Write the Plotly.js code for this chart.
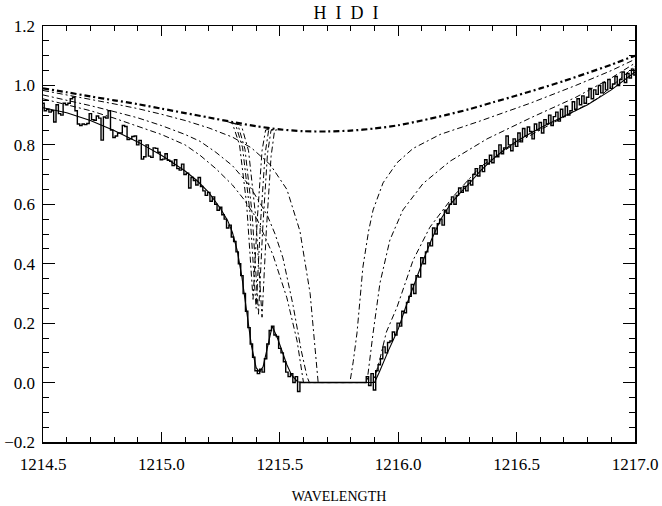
<!DOCTYPE html>
<html><head><meta charset="utf-8">
<script src="https://cdn.plot.ly/plotly-3.0.1.min.js"></script>
<style>html,body{margin:0;padding:0;background:#fff}#chart{width:662px;height:506px}</style>
</head><body><div id="chart"></div>
<script>
// Observed spectrum (histogram)
const dataWave = [
1214.50,1214.51,1214.52,1214.53,1214.54,1214.55,1214.56,1214.57,1214.58,1214.59,
1214.60,1214.61,1214.62,1214.63,1214.64,1214.65,1214.66,1214.67,1214.68,1214.69,
1214.70,1214.71,1214.72,1214.73,1214.74,1214.75,1214.76,1214.77,1214.78,1214.79,
1214.80,1214.81,1214.82,1214.83,1214.84,1214.85,1214.86,1214.87,1214.88,1214.89,
1214.90,1214.91,1214.92,1214.93,1214.94,1214.95,1214.96,1214.97,1214.98,1214.99,
1215.00,1215.01,1215.02,1215.03,1215.04,1215.05,1215.06,1215.07,1215.08,1215.09,
1215.10,1215.11,1215.12,1215.13,1215.14,1215.15,1215.16,1215.17,1215.18,1215.19,
1215.20,1215.21,1215.22,1215.23,1215.24,1215.25,1215.26,1215.27,1215.28,1215.29,
1215.30,1215.31,1215.32,1215.33,1215.34,1215.35,1215.36,1215.37,1215.38,1215.39,
1215.40,1215.41,1215.42,1215.43,1215.44,1215.45,1215.46,1215.47,1215.48,1215.49,
1215.50,1215.51,1215.52,1215.53,1215.54,1215.55,1215.56,1215.57,1215.58,1215.59,
1215.60,1215.61,1215.62,1215.63,1215.64,1215.65,1215.66,1215.67,1215.68,1215.69,
1215.70,1215.71,1215.72,1215.73,1215.74,1215.75,1215.76,1215.77,1215.78,1215.79,
1215.80,1215.81,1215.82,1215.83,1215.84,1215.85,1215.86,1215.87,1215.88,1215.89,
1215.90,1215.91,1215.92,1215.93,1215.94,1215.95,1215.96,1215.97,1215.98,1215.99,
1216.00,1216.01,1216.02,1216.03,1216.04,1216.05,1216.06,1216.07,1216.08,1216.09,
1216.10,1216.11,1216.12,1216.13,1216.14,1216.15,1216.16,1216.17,1216.18,1216.19,
1216.20,1216.21,1216.22,1216.23,1216.24,1216.25,1216.26,1216.27,1216.28,1216.29,
1216.30,1216.31,1216.32,1216.33,1216.34,1216.35,1216.36,1216.37,1216.38,1216.39,
1216.40,1216.41,1216.42,1216.43,1216.44,1216.45,1216.46,1216.47,1216.48,1216.49,
1216.50,1216.51,1216.52,1216.53,1216.54,1216.55,1216.56,1216.57,1216.58,1216.59,
1216.60,1216.61,1216.62,1216.63,1216.64,1216.65,1216.66,1216.67,1216.68,1216.69,
1216.70,1216.71,1216.72,1216.73,1216.74,1216.75,1216.76,1216.77,1216.78,1216.79,
1216.80,1216.81,1216.82,1216.83,1216.84,1216.85,1216.86,1216.87,1216.88,1216.89,
1216.90,1216.91,1216.92,1216.93,1216.94,1216.95,1216.96,1216.97,1216.98,1216.99,
1217.00];
const dataFlux = [
.94,.915,.92,.91,.915,.877,.935,.905,.90,.94,
.935,.94,.955,.96,.915,.87,.865,.87,.868,.872,
.905,.885,.883,.897,.89,.816,.894,.89,.915,.85,
.825,.83,.84,.84,.865,.862,.818,.82,.828,.83,
.80,.815,.752,.76,.80,.762,.758,.79,.788,.775,
.75,.752,.77,.748,.745,.73,.75,.72,.715,.735,
.70,.705,.655,.69,.68,.665,.69,.66,.645,.63,
.64,.61,.625,.60,.58,.59,.565,.55,.52,.53,
.49,.475,.44,.40,.36,.30,.24,.185,.13,.085,
.04,.03,.045,.035,.08,.13,.175,.19,.16,.155,
.115,.10,.07,.035,.02,.03,0,.02,-.03,0,
0,0,0,0,0,0,0,0,0,0,
0,0,0,0,0,0,0,0,0,0,
0,0,0,0,0,0,0,.02,-.01,.03,
-.025,.04,.06,.08,.12,.10,.135,.14,.17,.16,
.20,.19,.24,.235,.27,.29,.33,.30,.36,.355,
.42,.40,.44,.47,.46,.52,.50,.535,.55,.53,
.58,.57,.60,.625,.60,.63,.655,.64,.66,.645,
.68,.665,.70,.72,.695,.73,.71,.75,.735,.765,
.74,.78,.76,.80,.77,.79,.83,.80,.78,.82,
.795,.84,.81,.855,.83,.86,.845,.82,.87,.85,
.875,.84,.885,.87,.90,.865,.895,.91,.88,.92,
.895,.93,.90,.915,.945,.92,.955,.935,.965,.94,
.96,.99,.955,.985,.97,1.0,.975,1.01,.985,1.02,
.99,1.005,1.03,1.0,1.02,1.045,1.01,1.04,1.025,1.055,
1.035];

// Total fitted model (solid)
const fitWave = [1214.50,1214.60,1214.70,1214.80,1214.90,1215.00,1215.10,1215.15,1215.20,1215.25,1215.28,1215.30,1215.32,1215.34,1215.36,1215.38,1215.40,1215.415,1215.43,1215.45,1215.468,1215.49,1215.51,1215.53,1215.55,1215.575,1215.60,1215.70,1215.80,1215.90,1215.92,1215.94,1215.96,1215.98,1216.00,1216.03,1216.06,1216.10,1216.14,1216.18,1216.22,1216.26,1216.30,1216.35,1216.40,1216.45,1216.50,1216.56,1216.62,1216.70,1216.80,1216.90,1217.00];
const fitFlux = [.925,.908,.882,.848,.81,.765,.712,.68,.64,.585,.545,.505,.445,.355,.24,.125,.05,.035,.055,.13,.19,.15,.105,.06,.025,.003,0,0,0,0,.035,.075,.11,.145,.18,.25,.315,.40,.48,.55,.60,.637,.67,.715,.752,.785,.812,.84,.865,.895,.935,.985,1.045];

// Continuum (thick dash-dot)
const contWave = [1214.5,1214.6,1214.7,1214.8,1214.9,1215.0,1215.1,1215.2,1215.3,1215.4,1215.5,1215.6,1215.7,1215.8,1215.9,1216.0,1216.1,1216.2,1216.3,1216.4,1216.5,1216.6,1216.7,1216.8,1216.9,1217.0];
const contFlux = [.99,.977,.963,.95,.937,.922,.907,.892,.877,.863,.852,.846,.845,.848,.855,.866,.882,.90,.92,.943,.966,.99,1.015,1.042,1.07,1.10];

// H I model components (thin dash-dot)
const hiAWave = [1214.5,1214.6,1214.7,1214.8,1214.9,1215.0,1215.1,1215.2,1215.3,1215.38,1215.46,1215.53,1215.585,1215.628,1215.65,1215.662,1215.796,1215.81,1215.826,1215.851,1215.875,1215.894,1215.936,1215.995,1216.063,1216.177,1216.345,1216.557,1216.75,1216.9,1217.0];
const hiAFlux = [.983,.969,.953,.938,.922,.903,.882,.857,.826,.79,.733,.65,.51,.30,.12,0,0,.07,.167,.389,.51,.581,.672,.74,.788,.835,.88,.94,1.0,1.05,1.088];
const hiBWave = [1214.5,1214.6,1214.7,1214.8,1214.9,1215.0,1215.1,1215.163,1215.23,1215.3,1215.37,1215.446,1215.48,1215.513,1215.556,1215.59,1215.615,1215.625,1215.868,1215.894,1215.923,1215.965,1216.02,1216.105,1216.219,1216.375,1216.557,1216.75,1216.9,1217.0];
const hiBFlux = [.968,.951,.932,.912,.891,.865,.835,.812,.775,.73,.665,.565,.50,.42,.26,.11,.02,0,0,.167,.335,.48,.581,.67,.745,.82,.89,.96,1.025,1.075];
const hiCWave = [1214.5,1214.6,1214.7,1214.8,1214.9,1215.0,1215.1,1215.163,1215.23,1215.3,1215.35,1215.404,1215.471,1215.5,1215.53,1215.573,1215.59,1215.60,1215.894,1215.92,1215.95,1215.995,1216.063,1216.134,1216.231,1216.345,1216.485,1216.671,1216.84,1217.0];
const hiCFlux = [.955,.935,.915,.89,.862,.835,.80,.765,.72,.665,.615,.55,.43,.36,.285,.14,.06,0,0,.07,.17,.254,.412,.523,.625,.725,.80,.88,.955,1.065];

// D I component profiles (narrow dips on the continuum)
const di1Wave = [1215.28,1215.30,1215.33,1215.36,1215.387,1215.405,1215.425,1215.44,1215.46];
const di1Flux = [.878,.872,.80,.60,.28,.55,.78,.85,.853];
const di2Wave = [1215.29,1215.313,1215.343,1215.373,1215.40,1215.418,1215.438,1215.453,1215.473];
const di2Flux = [.876,.870,.79,.58,.25,.53,.77,.85,.852];
const di3Wave = [1215.30,1215.323,1215.353,1215.383,1215.41,1215.428,1215.448,1215.463,1215.483];
const di3Flux = [.875,.868,.785,.57,.23,.52,.77,.849,.852];
const di4Wave = [1215.315,1215.338,1215.368,1215.398,1215.425,1215.443,1215.463,1215.478,1215.498];
const di4Flux = [.872,.865,.78,.56,.22,.51,.76,.849,.852];

const DD = "6px,3px,2px,3px";
const thin = {color:'#000', width:1, dash:DD};
const traces = [
  {x:contWave, y:contFlux, mode:'lines', line:{color:'#000', width:2.2, dash:"6px,3px,2px,3px", shape:'spline', smoothing:0.8}},
  {x:hiAWave, y:hiAFlux, mode:'lines', line:thin},
  {x:hiBWave, y:hiBFlux, mode:'lines', line:thin},
  {x:hiCWave, y:hiCFlux, mode:'lines', line:thin},
  {x:di1Wave, y:di1Flux, mode:'lines', line:thin},
  {x:di2Wave, y:di2Flux, mode:'lines', line:thin},
  {x:di3Wave, y:di3Flux, mode:'lines', line:thin},
  {x:di4Wave, y:di4Flux, mode:'lines', line:thin},
  {x:dataWave, y:dataFlux, mode:'lines', line:{color:'#000', width:1.4, shape:'hvh'}},
  {x:fitWave, y:fitFlux, mode:'lines', line:{color:'#000', width:1.1}}
];

const tickFont = {family:'Liberation Serif, DejaVu Serif, serif', size:17, color:'#000'};
const layout = {
  width:662, height:506,
  margin:{l:43, r:27, t:26, b:64},
  paper_bgcolor:'#fff', plot_bgcolor:'#fff',
  showlegend:false,
  title:{text:'H\u00A0\u00A0I\u00A0\u00A0D\u00A0\u00A0I', x:0.512, xref:'paper', y:0.975, yref:'container', yanchor:'middle',
         font:{family:'Liberation Serif, serif', size:18, color:'#000'}},
  xaxis:{range:[1214.5,1217.0], tick0:1214.5, dtick:0.5, tickformat:'.1f',
         ticks:'inside', ticklen:10, tickwidth:1, tickcolor:'#000',
         minor:{dtick:0.1, ticks:'inside', ticklen:5, tickwidth:1, tickcolor:'#000', showgrid:false},
         mirror:'ticks', showline:true, linecolor:'#000', linewidth:1.5,
         showgrid:false, zeroline:false, tickfont:tickFont, ticklabelstandoff:6,
         title:{text:'WAVELENGTH', font:{family:'Liberation Serif, serif', size:14, color:'#000'}, standoff:18}},
  yaxis:{range:[-0.2,1.2], tick0:-0.2, dtick:0.2, tickformat:'.1f',
         ticks:'inside', ticklen:12, tickwidth:1, tickcolor:'#000',
         minor:{dtick:0.05, ticks:'inside', ticklen:6, tickwidth:1, tickcolor:'#000', showgrid:false},
         mirror:'ticks', showline:true, linecolor:'#000', linewidth:1.5,
         showgrid:false, zeroline:false, tickfont:tickFont, ticklabelstandoff:3}
};
Plotly.newPlot('chart', traces, layout, {staticPlot:true, displayModeBar:false});
</script></body></html>
